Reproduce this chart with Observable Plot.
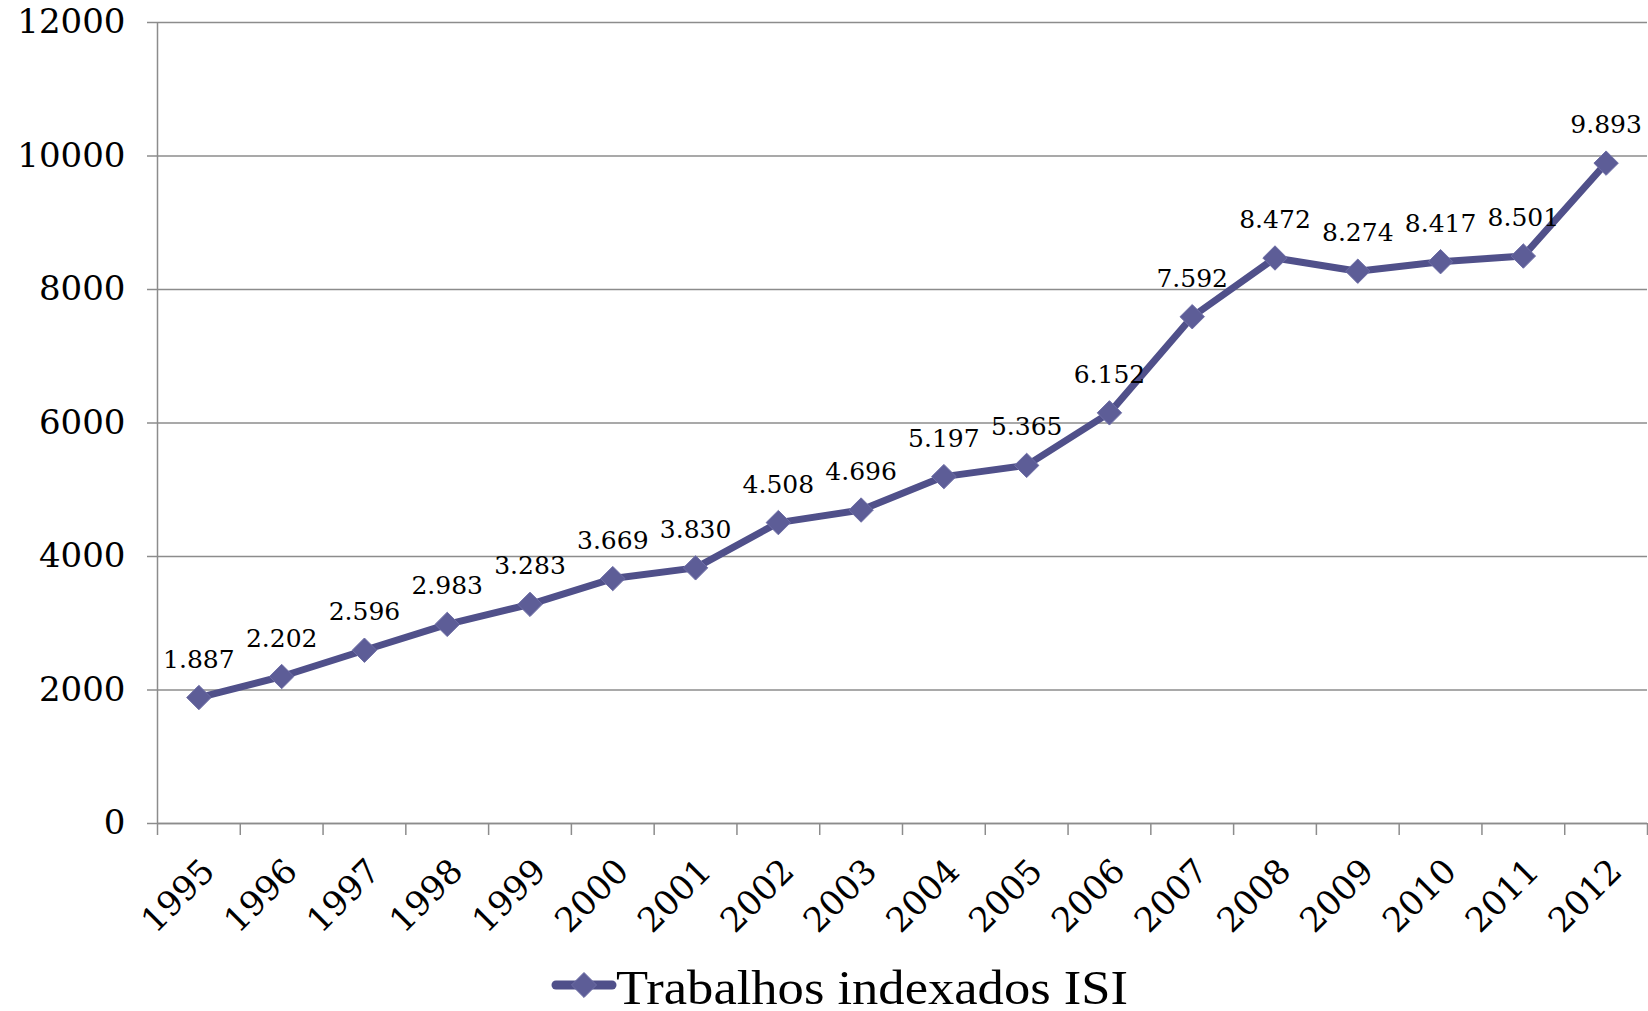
<!DOCTYPE html>
<html>
<head>
<meta charset="utf-8">
<script src="https://cdn.jsdelivr.net/npm/d3@7"></script>
<script src="https://cdn.jsdelivr.net/npm/@observablehq/plot@0.6"></script>
<style>
  html, body { margin: 0; padding: 0; background: #fff; }
  #chart svg { display: block; }
  #legend { height: 71px; position: relative; font-family: "Liberation Serif", serif; }
</style>
</head>
<body>
<div id="chart"></div>
<div id="legend"></div>
<script>
const years = [1995,1996,1997,1998,1999,2000,2001,2002,2003,2004,2005,2006,2007,2008,2009,2010,2011,2012];
const values = [1887,2202,2596,2983,3283,3669,3830,4508,4696,5197,5365,6152,7592,8472,8274,8417,8501,9893];
const yTicks = [0,2000,4000,6000,8000,10000,12000];
const seriesName = "Trabalhos indexados ISI";
const lineColor = "#50508a";
const markColor = "#5d5d97";
const gridColor = "#8c8c8c";

const data = years.map((y, i) => ({year: y, value: values[i]}));
const xDomain = [years[0] - 0.5, years[years.length - 1] + 0.5];
const boundaries = d3.range(xDomain[0], xDomain[1] + 0.01, 1);
const fmt = v => d3.format(",")(v).replace(/,/g, ".");

const chart = Plot.plot({
  width: 1648,
  height: 940,
  marginLeft: 157,
  marginRight: 1,
  marginTop: 22,
  marginBottom: 117,
  style: {fontFamily: "'DejaVu Serif', serif", color: "#000", background: "#fff"},
  x: {type: "linear", domain: xDomain},
  y: {domain: [0, 12000]},
  marks: [
    Plot.gridY(yTicks, {stroke: gridColor, strokeOpacity: 1, strokeWidth: 1.5}),
    Plot.axisY(yTicks, {tickSize: 10, tickPadding: 22, fontSize: 34, stroke: gridColor, strokeWidth: 1.5, tickFormat: d => String(d), label: null, color: "#000"}),
    Plot.ruleX([xDomain[0]], {stroke: gridColor, strokeWidth: 1.5}),
    Plot.ruleY([0], {stroke: gridColor, strokeWidth: 1.5}),
    Plot.axisX(boundaries, {tickSize: 12, tickFormat: () => "", stroke: gridColor, strokeWidth: 1.5, label: null}),
    Plot.axisX(years, {tickSize: 0, tickPadding: 42, tickRotate: -45, fontSize: 34, tickFormat: d => String(d), label: null, dx: 10}),
    Plot.line(data, {x: "year", y: "value", stroke: lineColor, strokeWidth: 7, strokeLinejoin: "round"}),
    Plot.dot(data, {x: "year", y: "value", symbol: "diamond2", r: 11, fill: markColor, stroke: "#6e6ea6", strokeWidth: 1}),
    Plot.text(data, {x: "year", y: "value", text: d => fmt(d.value), dy: -38, fontSize: 25, fill: "#000"})
  ]
});
document.getElementById("chart").appendChild(chart);

// legend
const legend = d3.select("#legend");
const lsvg = legend.append("svg").attr("width", 1648).attr("height", 71).style("display", "block");
const lx = 556, ly = 45;
lsvg.append("line").attr("x1", lx).attr("x2", lx + 56).attr("y1", ly).attr("y2", ly)
  .attr("stroke", lineColor).attr("stroke-width", 9).attr("stroke-linecap", "round");
lsvg.append("path").attr("transform", `translate(${lx + 28},${ly})`)
  .attr("d", d3.symbol(d3.symbolDiamond2, 400)())
  .attr("fill", markColor).attr("stroke", "#6e6ea6");
lsvg.append("text").attr("x", lx + 60).attr("y", ly + 19)
  .attr("font-family", "'Liberation Serif', serif").attr("font-size", 48)
  .attr("textLength", 512).attr("lengthAdjust", "spacingAndGlyphs")
  .attr("fill", "#000").text(seriesName);
</script>
</body>
</html>
